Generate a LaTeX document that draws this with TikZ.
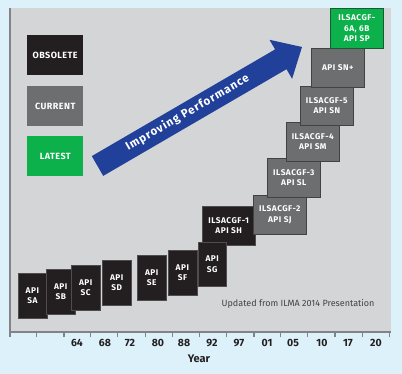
\documentclass[tikz,border=0pt]{standalone}
\usepackage{fontspec}
\setmainfont{Fira Sans}
\definecolor{skyback}{HTML}{DDF1FB}
\definecolor{panelgray}{HTML}{D4D5D7}
\definecolor{obscol}{HTML}{231F20}
\definecolor{curcol}{HTML}{6D6E70}
\definecolor{latcol}{HTML}{0DB14B}
\definecolor{arrowblue}{HTML}{21409A}
\definecolor{axisgray}{HTML}{818386}
\tikzset{
	api/.style={anchor=north west, inner sep=0pt, align=center, text=white,
		font=\fontsize{8.3}{10.5}\selectfont\bfseries\addfontfeatures{LetterSpace=6}},
	obsolete/.style={api, fill=obscol, draw=obscol!80!white, line width=0.4pt},
	current/.style={api, fill=curcol, draw=obscol!85!white, line width=0.6pt},
	latest/.style={api, fill=latcol, draw=obscol!60!latcol, line width=0.6pt},
	small/.style={minimum width=29pt, minimum height=45pt},
	wide/.style={minimum width=53pt, minimum height=39pt},
	legend/.style={minimum width=56pt, minimum height=40pt, draw=none,
		font=\fontsize{9}{10}\selectfont\bfseries\addfontfeatures{LetterSpace=5}},
	yearlabel/.style={text=obscol, font=\fontsize{10.5}{12}\selectfont\bfseries}
}
\begin{document}
\begin{tikzpicture}[x=1pt, y=-1pt]
	\useasboundingbox[fill=skyback] (0,0) rectangle (402,374);
	\fill[panelgray] (10,8) rectangle (391,332);
	\draw[axisgray, line width=1.5pt] (10,8)--(10,332)--(391,332);
	\foreach \t in {10,36.7,64,90.7,117.3,145.7,172.7,199.3,226.7,254,280.7,307.3,335,362.7,389.3}
		\draw[axisgray, line width=1.2pt] (\t,332)--(\t,337);
	\foreach \lx/\lab in {77/64,105/68,130/72,158/80,184/88,212/92,239/97,267/01,293/05,322/10,348/17,376/20}
		\node[yearlabel] (yr\lab) at (\lx,343) {\lab};
	\node[yearlabel, font=\fontsize{11}{13}\selectfont\bfseries] (year) at (199,359) {Year};
	% legend
	\node[obsolete, legend] (legobs) at (27,35) {OBSOLETE};
	\node[current, legend] (legcur) at (27,86) {CURRENT};
	\node[latest, legend] (leglat) at (27,136) {LATEST};
	% big arrow
	\fill[arrowblue] (91.8,156.1)--(275.1,49.4)--(269.5,39.8)--(302,47)--(292.1,78.8)--(286.5,69.2)--(103.2,175.9)--cycle;
	\node[text=white, rotate=30, font=\fontsize{11.5}{13}\selectfont\bfseries\addfontfeatures{LetterSpace=8}] (perf) at (187.5,112.8) {Improving Performance};
	% categories, oldest first
	\node[obsolete, small] (sa) at (17.7,273) {API\\SA};
	\node[obsolete, small] (sb) at (46,269) {API\\SB};
	\node[obsolete, small] (sc) at (71,265) {API\\SC};
	\node[obsolete, small] (sd) at (102,260) {API\\SD};
	\node[obsolete, small] (se) at (137,255) {API\\SE};
	\node[obsolete, small] (sf) at (167.7,250) {API\\SF};
	\node[obsolete, wide] (sh) at (202,206) {ILSACGF-1\\API SH};
	\node[obsolete, small, minimum width=28pt, minimum height=44pt] (sg) at (198,242) {API\\SG};
	\node[current, wide] (sj) at (253,195) {ILSACGF-2\\API SJ};
	\node[current, wide] (sl) at (267,158) {ILSACGF-3\\API SL};
	\node[current, wide] (sm) at (286,122) {ILSACGF-4\\API SM};
	\node[current, wide] (sn) at (300,86) {ILSACGF-5\\API SN};
	\node[current, wide] (snp) at (311,48) {API SN+};
	\node[latest, wide, minimum height=40pt] (sp) at (330,8) {ILSACGF-\\6A, 6B\\API SP};
	\node[text=obscol!85!white, anchor=east, font=\fontsize{9}{10}\selectfont] (note) at (378,304) {Updated from ILMA 2014 Presentation};
\end{tikzpicture}
\end{document}
